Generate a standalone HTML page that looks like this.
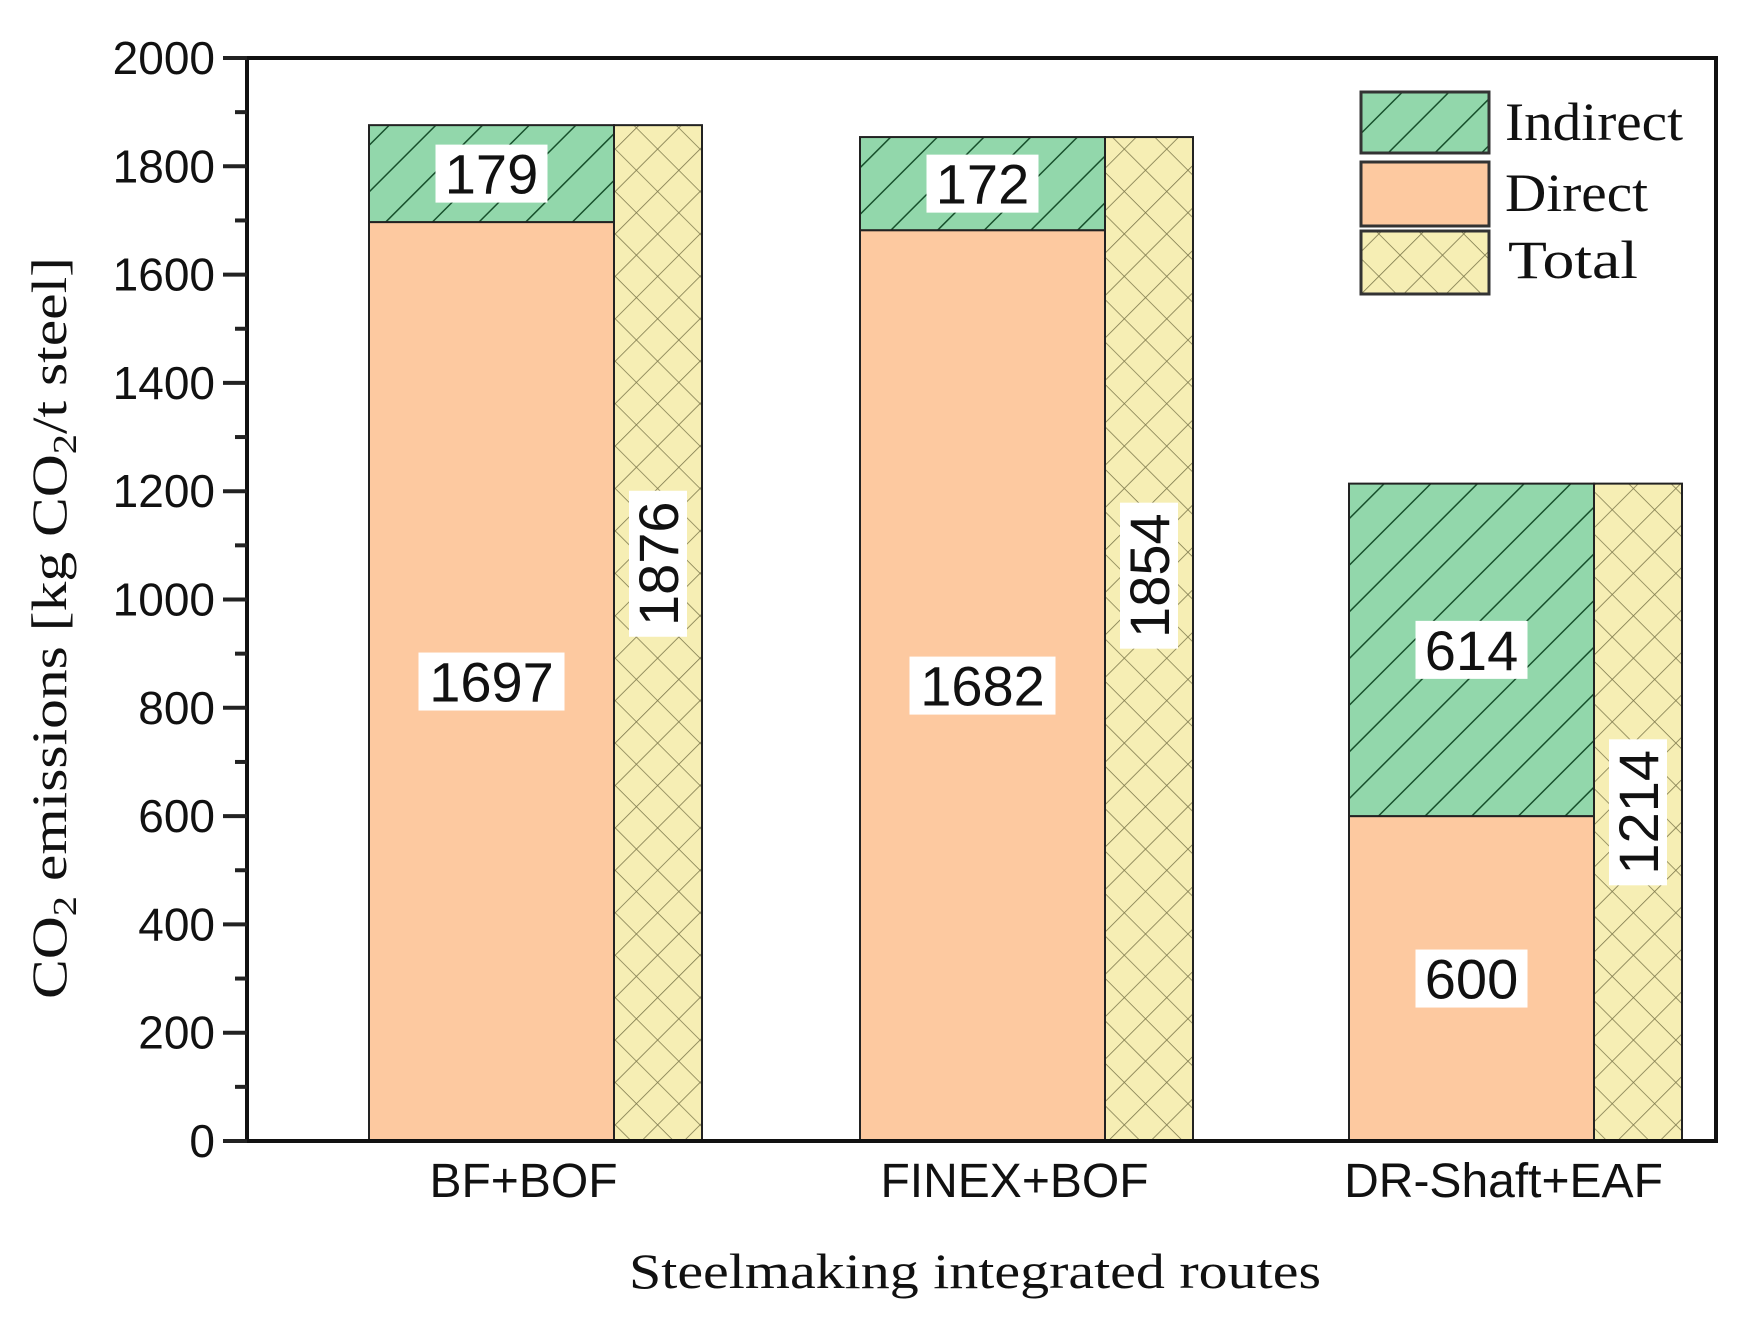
<!DOCTYPE html>
<html><head><meta charset="utf-8"><style>
html,body{margin:0;padding:0;background:#fff}
svg{display:block}
</style></head><body>
<svg id="chart" width="1743" height="1323" viewBox="0 0 1743 1323" xmlns="http://www.w3.org/2000/svg">
<defs>
<pattern id="hatch" patternUnits="userSpaceOnUse" width="33" height="33" patternTransform="rotate(45)">
<rect width="33" height="33" fill="#92d7ab"/>
<line x1="0" y1="0" x2="0" y2="33" stroke="#17502c" stroke-width="3"/>
</pattern>
<pattern id="cross" patternUnits="userSpaceOnUse" width="30" height="30" patternTransform="rotate(45)">
<rect width="30" height="30" fill="#f6eeb4"/>
<line x1="0" y1="0" x2="0" y2="30" stroke="#7d784c" stroke-width="1.6"/>
<line x1="0" y1="0" x2="30" y2="0" stroke="#7d784c" stroke-width="1.6"/>
</pattern>
</defs>
<g id="plot"></g>
</svg>
<script>
const categories = ["BF+BOF", "FINEX+BOF", "DR-Shaft+EAF"];
const directVals = [1697, 1682, 600];
const indirectVals = [179, 172, 614];
const totalVals = [1876, 1854, 1214];
const yTicks = [0, 200, 400, 600, 800, 1000, 1200, 1400, 1600, 1800, 2000];

const NS = "http://www.w3.org/2000/svg";
const g = document.getElementById("plot");
const X0 = 247, X1 = 1716, Y0 = 1141, Y1 = 58;
function yS(v){ return Y0 - (v/2000)*(Y0-Y1); }
const groupLeft = [369, 860, 1349];
function mk(tag, attrs, parent){ const e=document.createElementNS(NS,tag); for(const k in attrs) e.setAttribute(k, attrs[k]); (parent||g).appendChild(e); return e; }

for (let i=0;i<categories.length;i++){
  const xl = groupLeft[i], xm = xl+245, xr = xm+88;
  const d = mk("rect",{x:xl,y:yS(directVals[i]),width:xm-xl,height:yS(0)-yS(directVals[i]),fill:"#fdc9a0",stroke:"#222","stroke-width":2});
  
  
  const top = directVals[i]+indirectVals[i];
  const ind = mk("rect",{x:xl,y:yS(top),width:xm-xl,height:yS(directVals[i])-yS(top),fill:"url(#hatch)",stroke:"#222","stroke-width":2});
  
  
  const t = mk("rect",{x:xm,y:yS(totalVals[i]),width:xr-xm,height:yS(0)-yS(totalVals[i]),fill:"url(#cross)",stroke:"#222","stroke-width":2});
  
  

  function label(txt, cx, cy, rot, name){
    const w = txt.length*34+10, h = 58;
    const gg = mk("g",{transform:"translate("+cx+","+cy+")"+(rot?" rotate(-90)":"")});
    
    
    mk("rect",{x:-w/2,y:-h/2,width:w,height:h,fill:"#fff"},gg);
    const tx = mk("text",{x:0,y:20,"text-anchor":"middle","font-family":"Liberation Sans, Arial, sans-serif","font-size":56,fill:"#111"},gg);
    tx.textContent = txt;
  }
  label(String(directVals[i]), (xl+xm)/2, yS(directVals[i]/2), false, 'label-direct-'+i);
  label(String(indirectVals[i]), (xl+xm)/2, yS(directVals[i]+indirectVals[i]/2), false, 'label-indirect-'+i);
  label(String(totalVals[i]), (xm+xr)/2, yS(Math.max(totalVals[i]/2, totalVals[i]-810)), true, 'label-total-'+i);

  const cl = mk("text",{x:(xl+xr)/2-12,y:1197,"text-anchor":"middle","font-family":"Liberation Sans, Arial, sans-serif","font-size":48,fill:"#111"});
  
  
  cl.textContent = categories[i];
}

const frame = mk("rect",{x:X0,y:Y1,width:X1-X0,height:Y0-Y1,fill:"none",stroke:"#111","stroke-width":4});



for (let i=0;i<yTicks.length;i++){
  const y = yS(yTicks[i]);
  const tk = mk("line",{x1:X0-24,y1:y,x2:X0,y2:y,stroke:"#222","stroke-width":4});
  
  
  const lb = mk("text",{x:X0-32,y:y+16,"text-anchor":"end","font-family":"Liberation Sans, Arial, sans-serif","font-size":46,fill:"#111"});
  
  
  lb.textContent = yTicks[i];
  if (i<yTicks.length-1){
    const ym = yS((yTicks[i]+yTicks[i+1])/2);
    const mt = mk("line",{x1:X0-12,y1:ym,x2:X0,y2:ym,stroke:"#222","stroke-width":4});
    
    
  }
}
</script>
<svg style="position:absolute;left:0;top:0" width="1743" height="1323" viewBox="0 0 1743 1323">
<g>
<rect x="1361" y="92" width="128" height="61" fill="url(#hatch)" stroke="#333" stroke-width="3"/>
<rect x="1361" y="162" width="128" height="64" fill="#fdc9a0" stroke="#333" stroke-width="3"/>
<rect x="1361" y="231" width="128" height="63" fill="url(#cross)" stroke="#333" stroke-width="3"/>
<text x="1505" y="140" font-family="Liberation Serif, Times New Roman, serif" font-size="54" textLength="178" lengthAdjust="spacingAndGlyphs" fill="#111">Indirect</text>
<text x="1505" y="211" font-family="Liberation Serif, Times New Roman, serif" font-size="54" textLength="143" lengthAdjust="spacingAndGlyphs" fill="#111">Direct</text>
<text x="1508" y="278" font-family="Liberation Serif, Times New Roman, serif" font-size="54" textLength="130" lengthAdjust="spacingAndGlyphs" fill="#111">Total</text>
</g>
<text transform="translate(66,628) rotate(-90)" text-anchor="middle" font-family="Liberation Serif, Times New Roman, serif" font-size="50" textLength="742" lengthAdjust="spacingAndGlyphs" fill="#111">CO<tspan font-size="34" dy="10">2</tspan><tspan dy="-10"> emissions [kg CO</tspan><tspan font-size="34" dy="10">2</tspan><tspan dy="-10">/t steel]</tspan></text>
<text x="975" y="1288" text-anchor="middle" font-family="Liberation Serif, Times New Roman, serif" font-size="50" textLength="692" lengthAdjust="spacingAndGlyphs" fill="#111">Steelmaking integrated routes</text>
</svg>
</body></html>
